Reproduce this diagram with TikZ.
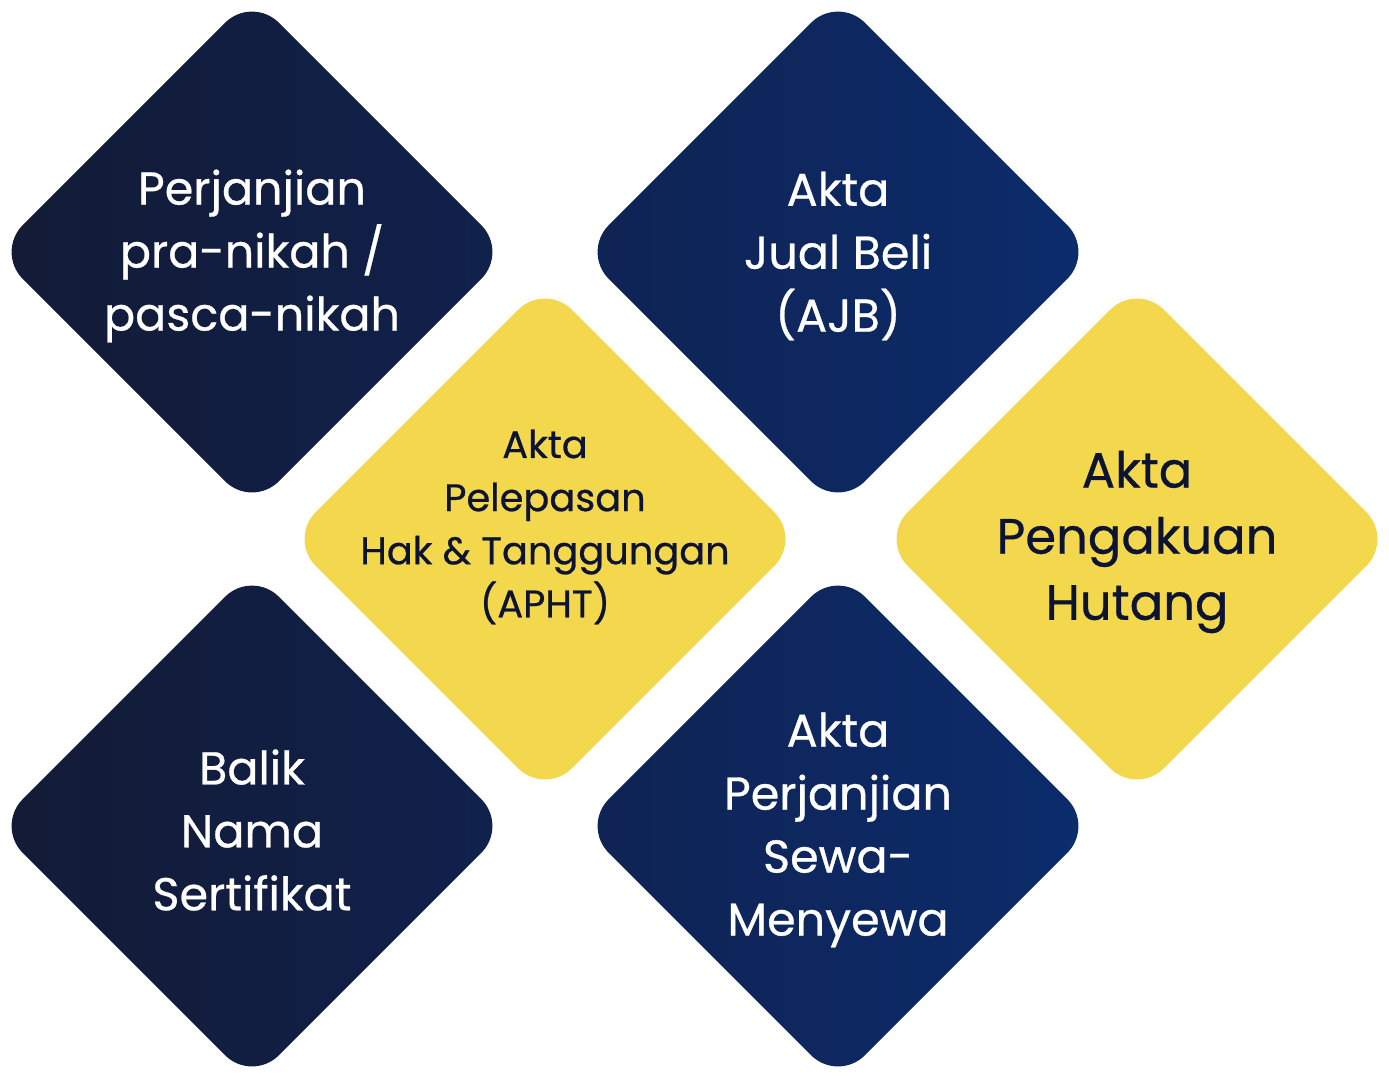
\documentclass[tikz,border=0pt]{standalone}
\usepackage{fontspec}
\setmainfont[FakeBold=0.6]{Poppins}
\usetikzlibrary{shapes.geometric}
\definecolor{navyA}{HTML}{131B35}
\definecolor{navyB}{HTML}{10214D}
\definecolor{navyC}{HTML}{0F2353}
\definecolor{navyD}{HTML}{0C2C6C}
\definecolor{gold}{HTML}{F3D74C}
\definecolor{goldtext}{HTML}{0D1433}
\tikzset{
	tile/.style = {diamond, aspect=1, minimum size=5.12cm, inner sep=0pt, outer sep=0pt, rounded corners=0.38cm},
	navytile/.style = {tile, left color=navyA, right color=navyB},
	bluetile/.style = {tile, left color=navyC, right color=navyD},
	goldtile/.style = {tile, fill=gold},
	whitetext/.style = {text=white, align=center, yshift=-0.04cm, font=\fontsize{13.1}{17.9}\selectfont},
	darktext/.style 2 args = {text=goldtext, align=center, font=\fontsize{#1}{#2}\selectfont},
}
\begin{document}
\begin{tikzpicture}[x=0.01cm, y=-0.01cm]
	\useasboundingbox (0,0) rectangle (1389,1078);
	% the six tiles
	\node [navytile] (pranikah) at (252,252) {};
	\node [bluetile] (ajb) at (838,252) {};
	\node [goldtile] (apht) at (545,539) {};
	\node [goldtile] (hutang) at (1137,539) {};
	\node [navytile] (baliknama) at (252,826) {};
	\node [bluetile] (sewa) at (838,826) {};
	% texts
	\node [whitetext] (pranikah-text) at (pranikah) {Perjanjian\\pra-nikah /\\pasca-nikah};
	\node [whitetext] (ajb-text) at (ajb) {Akta\\Jual Beli\\(AJB)};
	\node [darktext={10.9}{15.1}, yshift=0.12cm] (apht-text) at (apht) {Akta\\Pelepasan\\Hak \& Tanggungan\\(APHT)};
	\node [darktext={14.1}{18.8}, yshift=-0.03cm] (hutang-text) at (hutang) {Akta\\Pengakuan\\Hutang};
	\node [whitetext] (baliknama-text) at (baliknama) {Balik\\Nama\\Sertifikat};
	\node [whitetext] (sewa-text) at (sewa) {Akta\\Perjanjian\\Sewa-\\Menyewa};
\end{tikzpicture}
\end{document}
